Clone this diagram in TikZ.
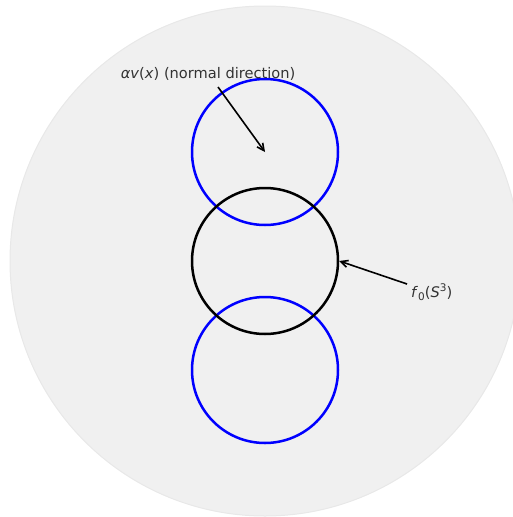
\documentclass[tikz,border=0pt]{standalone}
\usepackage{fontspec}
\setmainfont{DejaVu Sans}
\usetikzlibrary{arrows.meta,positioning}

\begin{document}
\begin{tikzpicture}[
  x=1pt, y=-1pt,
  font=\fontsize{14.6}{17}\selectfont,
  >={Straight Barb[length=7pt,width=7pt]},
  ball/.style={circle, draw=black!9, fill=black!6, line width=1pt,
               minimum size=510pt, inner sep=0pt},
  sphere/.style={circle, draw=black, line width=2.5pt, minimum size=146pt, inner sep=0pt},
  shifted/.style={circle, draw=blue, line width=2.5pt, minimum size=146pt, inner sep=0pt},
  lbl/.style={text=black!80, inner sep=1pt},
  pointer/.style={->, line width=1.6pt, draw=black},
]
\useasboundingbox (0,0) rectangle (513,517);

\node[ball] (ball) at (265,261) {};

\node[shifted] (up)   at (265,152) {};
\node[shifted] (down) at (265,370) {};
\node[sphere]  (f0)   at (265,261) {};

\node[lbl] (lblnormal) at (208,74) {\textit{αv}(\textit{x}) (normal direction)};
\node[lbl, anchor=west] (lblf) at (410,292) {\textit{f}\raisebox{-0.4ex}{\fontsize{10.5}{12}\selectfont 0}(\textit{S}\raisebox{0.75ex}{\fontsize{10.5}{12}\selectfont 3})};

\coordinate (normtail) at (218,87);
\coordinate (ftail) at (407,284);

\draw[pointer] (normtail) -- (up.center);
\draw[pointer] (ftail) -- (f0.east);

\end{tikzpicture}
\end{document}
